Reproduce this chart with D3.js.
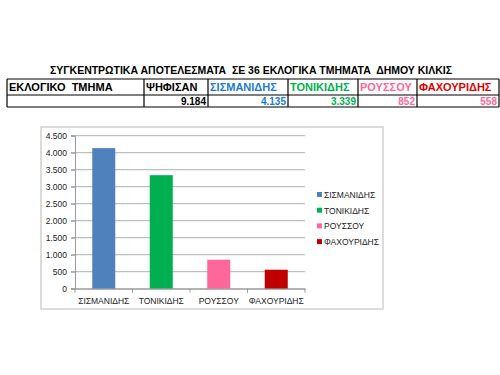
<!DOCTYPE html>
<html><head><meta charset="utf-8">
<script src="https://cdn.jsdelivr.net/npm/d3@7"></script>
<style>body{margin:0;background:#fff}svg{display:block}text{white-space:pre}</style>
</head><body>
<svg id="c" width="500" height="375"></svg>
<script>
const title = "ΣΥΓΚΕΝΤΡΩΤΙΚΑ ΑΠΟΤΕΛΕΣΜΑΤΑ  ΣΕ 36 ΕΚΛΟΓΙΚΑ ΤΜΗΜΑΤΑ  ΔΗΜΟΥ ΚΙΛΚΙΣ";
const headers = ["ΕΚΛΟΓΙΚΟ  ΤΜΗΜΑ", "ΨΗΦΙΣΑΝ", "ΣΙΣΜΑΝΙΔΗΣ", "ΤΟΝΙΚΙΔΗΣ", "ΡΟΥΣΣΟΥ", "ΦΑΧΟΥΡΙΔΗΣ"];
const rowValues = ["", "9.184", "4.135", "3.339", "852", "558"];
const headerColors = ["#000", "#000", "#1a7bd0", "#00b050", "#ff6699", "#e00000"];
const valueColors = ["#000", "#000", "#1a7bd0", "#00b050", "#ff6699", "#ff6699"];
const categories = ["ΣΙΣΜΑΝΙΔΗΣ", "ΤΟΝΙΚΙΔΗΣ", "ΡΟΥΣΣΟΥ", "ΦΑΧΟΥΡΙΔΗΣ"];
const values = [4135, 3339, 852, 558];
const barColors = ["#4f81bd", "#00b050", "#ff6699", "#c00000"];
const yTicks = [0, 500, 1000, 1500, 2000, 2500, 3000, 3500, 4000, 4500];

const svg = d3.select("#c");
const boldFont = "'Liberation Sans', Arial, sans-serif";
const narrowFont = "'Liberation Sans Narrow', 'Liberation Sans', Arial, sans-serif";

// Title
svg.append("text").attr("x", 251).attr("y", 74).attr("text-anchor", "middle")
  .attr("font-family", boldFont).attr("font-weight", "bold").attr("font-size", 11)
  .attr("textLength", 402).attr("lengthAdjust", "spacingAndGlyphs")
  .attr("fill", "#000").text(title);

// Table
const colX = [7, 144, 208, 288, 358, 417, 499];
const rowY = [79, 95, 107];
const tg = svg.append("g");
tg.selectAll("line.h").data(rowY).join("line")
  .attr("x1", colX[0]).attr("x2", colX[6]).attr("y1", d => d).attr("y2", d => d)
  .attr("stroke", "#000").attr("stroke-width", 1.2);
tg.selectAll("line.v").data(colX).join("line")
  .attr("x1", d => d).attr("x2", d => d).attr("y1", rowY[0]).attr("y2", rowY[2])
  .attr("stroke", "#000").attr("stroke-width", 1.2);
tg.selectAll("text.hd").data(headers).join("text")
  .attr("x", (d, i) => colX[i] + 2).attr("y", 91)
  .attr("font-family", boldFont).attr("font-weight", "bold").attr("font-size", 11)
  .attr("fill", (d, i) => headerColors[i]).text(d => d);
tg.selectAll("text.vl").data(rowValues).join("text")
  .attr("x", (d, i) => colX[i + 1] - 2).attr("y", 105).attr("text-anchor", "end")
  .attr("font-family", boldFont).attr("font-weight", "bold").attr("font-size", 10)
  .attr("fill", (d, i) => valueColors[i]).text(d => d);

// Chart frame
svg.append("rect").attr("x", 41).attr("y", 127).attr("width", 342).attr("height", 182)
  .attr("fill", "#fff").attr("stroke", "#b8b8b8").attr("stroke-width", 1);

const x = d3.scaleBand().domain(categories).range([75, 305]).paddingInner(0.6).paddingOuter(0.3);
const y = d3.scaleLinear().domain([0, 4500]).range([288.7, 135.7]);
const fmt = v => d3.format(",")(v).replace(/,/g, ".");

// gridlines
svg.append("g").selectAll("line").data(yTicks).join("line")
  .attr("x1", 71).attr("x2", 305).attr("y1", d => y(d)).attr("y2", d => y(d))
  .attr("stroke", "#bfbfbf").attr("stroke-width", 1.3);

// y axis
const ya = svg.append("g").attr("transform", "translate(75,0)")
  .call(d3.axisLeft(y).tickValues(yTicks).tickFormat(fmt).tickSize(4).tickPadding(4));
ya.select(".domain").attr("stroke", "#999");
ya.selectAll(".tick line").attr("stroke", "#999");
ya.selectAll("text").attr("font-family", narrowFont).attr("font-size", 8.5).attr("fill", "#222");

// bars
svg.append("g").selectAll("rect").data(values).join("rect")
  .attr("x", (d, i) => x(categories[i])).attr("width", x.bandwidth())
  .attr("y", d => y(d)).attr("height", d => y(0) - y(d))
  .attr("fill", (d, i) => barColors[i]);

// x axis
const xa = svg.append("g").attr("transform", "translate(0,288.7)")
  .call(d3.axisBottom(x).tickSize(0).tickPadding(9));
xa.select(".domain").attr("stroke", "#999");
xa.selectAll("text").attr("font-family", narrowFont).attr("font-size", 8.5).attr("fill", "#222");
const edges = [0, 1, 2, 3, 4].map(i => 75 + i * (230 / 4));
xa.selectAll("line.sep").data(edges).join("line").attr("class", "sep")
  .attr("x1", d => d).attr("x2", d => d).attr("y1", 0).attr("y2", 4).attr("stroke", "#999");

// legend
const lg = svg.append("g").attr("transform", "translate(317,195)");
const li = lg.selectAll("g").data(categories).join("g")
  .attr("transform", (d, i) => `translate(0,${i * 15.7})`);
li.append("rect").attr("x", 0).attr("y", -3).attr("width", 5).attr("height", 5)
  .attr("fill", (d, i) => barColors[i]);
li.append("text").attr("x", 7).attr("y", 3).attr("font-family", narrowFont).attr("font-size", 8.5)
  .attr("fill", "#222").text(d => d);
</script>
</body></html>
